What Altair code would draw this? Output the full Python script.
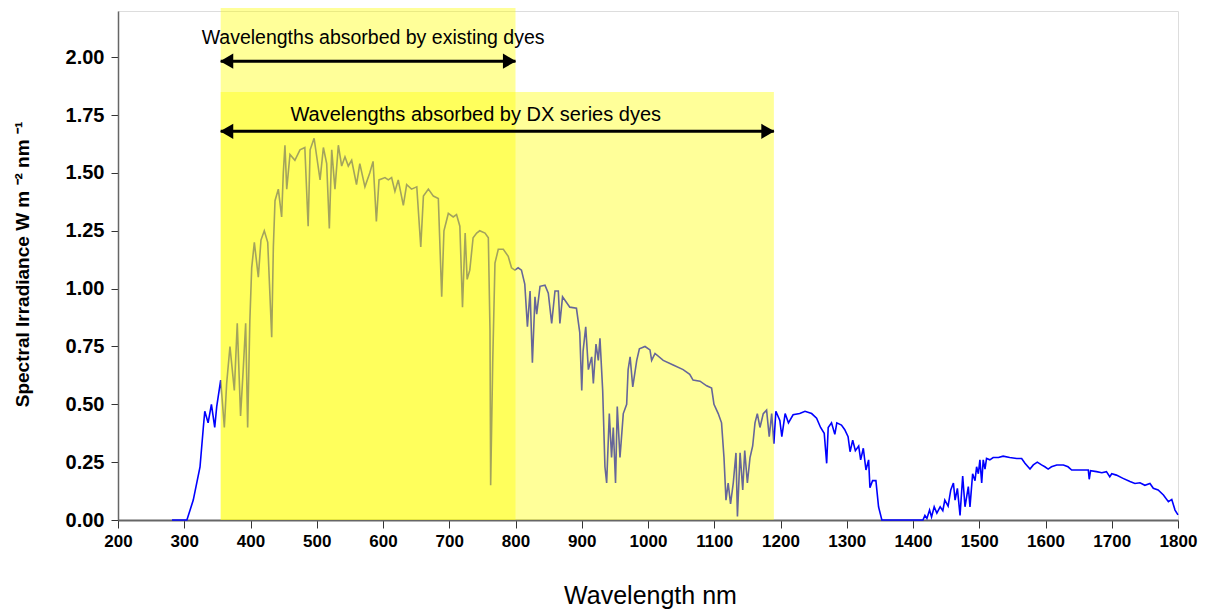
import altair as alt
import pandas as pd

# Spectrum (nm, W m-2 nm-1)
wavelength = [
    281.5, 304, 313.6, 323.8, 328.8, 331, 336, 341, 346, 349,
    355, 360.5, 364, 369, 375.6, 380, 385, 389, 392.7, 395.7,
    399, 401.8, 405.8, 409, 411.8, 415.8, 420.8, 426, 432, 434.5,
    437, 442, 447, 449.5, 452, 454.7, 459.6, 467, 474.7, 482,
    487, 490, 496, 500, 505, 510, 515, 519, 522.6, 527.5,
    532.6, 537.6, 542.6, 547.6, 552.7, 560, 565, 572.7, 580, 585,
    590, 594, 603, 608, 613, 618, 623, 630.7, 635.7, 643,
    651, 657, 661, 668.5, 676, 683.5, 688.6, 692, 698.6, 706,
    711, 716, 720, 724, 727, 731, 736, 741.4, 746, 754,
    759, 761.5, 762.5, 765.6, 769, 774, 781.6, 789, 794, 799,
    804, 809, 814, 818, 822, 825.5, 829.4, 832, 837, 844.5,
    849.5, 854.6, 859.6, 864.6, 867, 871, 882, 892, 897, 900,
    902, 906, 910, 915, 917.5, 921.5, 925, 927.5, 931.6, 935,
    937.6, 941.6, 945, 947.6, 951, 953.6, 957.7, 962.7, 967.8, 970,
    973, 977, 983, 987, 995.5, 1003, 1005.5, 1010.6, 1023, 1038,
    1053, 1063, 1068, 1078.5, 1088.6, 1096, 1099.6, 1106, 1111, 1114.7,
    1117.7, 1121, 1124.6, 1128.7, 1132.8, 1135, 1139, 1143, 1146, 1150,
    1154, 1158, 1161.5, 1165, 1169, 1174, 1179, 1183, 1186.7, 1190,
    1193, 1199, 1202, 1207, 1212, 1219, 1229, 1237, 1247, 1254.5,
    1260.5, 1266, 1269.7, 1272, 1277, 1282, 1285, 1292, 1297, 1302,
    1305, 1309, 1313, 1318, 1321, 1325, 1329, 1333, 1335, 1339,
    1344, 1348, 1353, 1415, 1418, 1421, 1425, 1428, 1432, 1436,
    1441, 1445, 1448, 1453, 1457, 1461, 1463.5, 1467, 1471, 1475,
    1478.5, 1483.5, 1486, 1490, 1493.6, 1496, 1498.6, 1501, 1503.7, 1506,
    1508.7, 1511, 1516, 1521, 1529, 1536, 1546, 1556.5, 1564, 1569,
    1576.6, 1581.6, 1587.6, 1594, 1599, 1604, 1609, 1617, 1627, 1634,
    1639.5, 1652, 1664.6, 1666, 1668, 1677, 1685, 1692, 1697, 1700,
    1707, 1717, 1727.5, 1735, 1742.6, 1750, 1757.7, 1762.7, 1770, 1778,
    1785.5, 1790.6, 1795.5, 1800,
]
irradiance = [
    0.0, 0.0, 0.086, 0.23, 0.40, 0.47, 0.42, 0.50, 0.40, 0.49,
    0.605, 0.40, 0.59, 0.75, 0.56, 0.85, 0.45, 0.65, 0.85, 0.40,
    0.86, 1.09, 1.20, 1.12, 1.05, 1.21, 1.25, 1.20, 0.79, 1.18,
    1.38, 1.43, 1.31, 1.50, 1.62, 1.43, 1.58, 1.555, 1.60, 1.61,
    1.27, 1.60, 1.65, 1.57, 1.47, 1.61, 1.54, 1.26, 1.60, 1.43,
    1.62, 1.53, 1.57, 1.53, 1.555, 1.45, 1.54, 1.44, 1.50, 1.55,
    1.29, 1.47, 1.48, 1.47, 1.48, 1.42, 1.47, 1.36, 1.45, 1.43,
    1.44, 1.18, 1.40, 1.43, 1.40, 1.39, 0.965, 1.25, 1.325, 1.31,
    1.32, 1.27, 0.92, 1.24, 1.04, 1.08, 1.22, 1.24, 1.25, 1.24,
    1.22, 0.82, 0.15, 0.68, 1.11, 1.17, 1.17, 1.14, 1.09, 1.08,
    1.09, 1.08, 1.02, 0.835, 0.99, 0.68, 0.965, 0.89, 1.01, 1.015,
    0.98, 0.85, 0.99, 0.99, 0.85, 0.965, 0.92, 0.915, 0.81, 0.56,
    0.73, 0.835, 0.65, 0.705, 0.59, 0.76, 0.69, 0.785, 0.56, 0.23,
    0.16, 0.46, 0.27, 0.40, 0.16, 0.49, 0.27, 0.46, 0.50, 0.65,
    0.705, 0.575, 0.69, 0.74, 0.75, 0.735, 0.69, 0.72, 0.69, 0.67,
    0.65, 0.63, 0.605, 0.60, 0.58, 0.57, 0.50, 0.46, 0.42, 0.27,
    0.086, 0.16, 0.07, 0.16, 0.29, 0.015, 0.29, 0.13, 0.30, 0.16,
    0.27, 0.32, 0.42, 0.46, 0.40, 0.46, 0.475, 0.36, 0.46, 0.33,
    0.47, 0.43, 0.36, 0.46, 0.42, 0.455, 0.46, 0.47, 0.46, 0.44,
    0.40, 0.375, 0.245, 0.40, 0.42, 0.37, 0.42, 0.41, 0.39, 0.36,
    0.295, 0.345, 0.30, 0.32, 0.26, 0.31, 0.216, 0.26, 0.14, 0.17,
    0.17, 0.057, 0.0, 0.0, 0.02, 0.007, 0.043, 0.013, 0.057, 0.03,
    0.057, 0.04, 0.086, 0.06, 0.13, 0.16, 0.086, 0.137, 0.02, 0.19,
    0.057, 0.144, 0.057, 0.20, 0.17, 0.23, 0.20, 0.26, 0.16, 0.26,
    0.22, 0.266, 0.26, 0.27, 0.27, 0.276, 0.27, 0.266, 0.266, 0.245,
    0.22, 0.238, 0.25, 0.238, 0.23, 0.22, 0.23, 0.238, 0.238, 0.23,
    0.216, 0.216, 0.216, 0.176, 0.213, 0.209, 0.204, 0.209, 0.187, 0.20,
    0.194, 0.18, 0.166, 0.158, 0.161, 0.15, 0.158, 0.137, 0.13, 0.108,
    0.079, 0.089, 0.043, 0.022,
]

# Absorption bands
band_names = ["existing", "dx"]
band_start = [355, 355]
band_end = [800, 1190]
band_top = [2.215, 1.85]

# Annotations
label_texts = ["Wavelengths absorbed by existing dyes", "Wavelengths absorbed by DX series dyes"]
label_x = [585, 740]
label_y = [2.085, 1.75]
label_size = [19.5, 20]
arrow_y = [1.983, 1.68]

x_ticks = list(range(200, 1801, 100))
y_ticks = [0, 0.25, 0.5, 0.75, 1.0, 1.25, 1.5, 1.75, 2.0]

spec = pd.DataFrame({"wl": wavelength, "irr": irradiance})
bands = pd.DataFrame({"name": band_names, "x": band_start, "x2": band_end,
                      "y": [0, 0], "y2": band_top})
labels = pd.DataFrame({"text": label_texts, "x": label_x, "y": label_y, "s": label_size})
arrows = pd.DataFrame({"x": band_start, "x2": band_end, "y": arrow_y})

xscale = alt.Scale(domain=[200, 1800], nice=False, zero=False)
yscale = alt.Scale(domain=[0, 2.2], nice=False)

x_axis = alt.Axis(values=x_ticks, format="d", title="Wavelength nm", grid=False,
                  labelFont="Liberation Sans", labelFontSize=17, labelFontWeight="bold",
                  labelColor="#000", labelPadding=5, labelFlush=False, labelOverlap=False,
                  tickSize=8, tickColor="#333",
                  domainColor="#666", domainWidth=2, titleFont="Liberation Sans",
                  titleFontSize=25, titleFontWeight="normal", titleColor="#000",
                  titleX=532, titleY=75, titleAlign="center", titleBaseline="middle")
y_axis = alt.Axis(values=y_ticks, format=".2f",
                  title="Spectral Irradiance W m \u207b\u00b2 nm \u207b\u00b9",
                  grid=False, labelFont="Liberation Sans", labelFontSize=20,
                  labelFontWeight="bold", labelColor="#000", labelPadding=7, tickSize=7,
                  labelFlush=False, labelOverlap=False,
                  tickColor="#333", domainColor="#666", domainWidth=1.5,
                  titleFont="Liberation Sans", titleFontSize=19, titleFontWeight="bold",
                  titleColor="#000", titleX=-96, titleY=253, titleAngle=-90,
                  titleAlign="center", titleBaseline="middle")

line = alt.Chart(spec).mark_line(color="#0000FF", strokeWidth=1.6).encode(
    x=alt.X("wl:Q", scale=xscale, axis=x_axis),
    y=alt.Y("irr:Q", scale=yscale, axis=y_axis),
)

rects = alt.Chart(bands).mark_rect(color="#FFFF00", opacity=0.4).encode(
    x=alt.X("x:Q", scale=xscale), x2="x2:Q",
    y=alt.Y("y:Q", scale=yscale), y2="y2:Q",
)

shafts = alt.Chart(arrows).mark_rule(color="#000", strokeWidth=3).encode(
    x=alt.X("x:Q", scale=xscale), x2="x2:Q",
    y=alt.Y("y:Q", scale=yscale),
)
heads_l = alt.Chart(arrows).mark_point(shape="triangle-left", filled=True, color="#000",
                                       opacity=1, size=230, xOffset=6).encode(
    x=alt.X("x:Q", scale=xscale), y=alt.Y("y:Q", scale=yscale),
)
heads_r = alt.Chart(arrows).mark_point(shape="triangle-right", filled=True, color="#000",
                                       opacity=1, size=230, xOffset=-6).encode(
    x=alt.X("x2:Q", scale=xscale), y=alt.Y("y:Q", scale=yscale),
)
texts = alt.Chart(labels).mark_text(font="Liberation Sans", color="#000",
                                    align="center", baseline="middle").encode(
    x=alt.X("x:Q", scale=xscale), y=alt.Y("y:Q", scale=yscale), text="text:N",
    size=alt.Size("s:Q", scale=None, legend=None),
)

chart = alt.layer(line, rects, shafts, heads_l, heads_r, texts).properties(
    width=1060, height=509,
    autosize=alt.AutoSizeParams(type="none"),
    padding={"left": 110, "top": 3, "right": 25, "bottom": 90},
).configure_view(stroke="#777", strokeWidth=1.5).configure(background="white")

chart.save("out.html", embed_options={"renderer": "svg", "actions": False})
